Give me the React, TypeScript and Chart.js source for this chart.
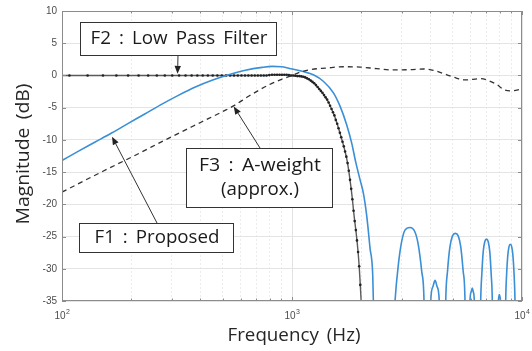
import React, { useEffect, useRef } from "react";
import { Chart, registerables } from "chart.js";

Chart.register(...registerables);

// ---------- data ----------
const xTickValues = [100, 200, 300, 400, 500, 600, 700, 800, 900, 1000, 2000, 3000, 4000, 5000, 6000, 7000, 8000, 9000, 10000];
const xLabelValues = [100, 1000, 10000];
const yTickValues = [-35, -30, -25, -20, -15, -10, -5, 0, 5, 10];

// F1 : Proposed (blue)
const f1Freq = [100, 118, 140, 165, 195, 230, 272, 322, 380, 449, 531, 627, 741, 818, 905, 1000, 1119, 1238, 1368, 1514,
  1619, 1727, 1818, 1894, 1977, 2044, 2113, 2184, 2244, 2258, 2500,
  2805, 2899, 2997, 3099, 3258, 3425, 3541, 3664, 3750, 3880,
  4010, 4097, 4188, 4277, 4368, 4500,
  4659, 4746, 4860, 4986, 5131, 5280, 5417, 5546, 5652, 5800,
  5941, 6010, 6080, 6142, 6204, 6400,
  6613, 6691, 6784, 6888, 7010, 7132, 7241, 7342, 7429, 7650,
  7889, 7927, 7968, 8023, 8079, 8280,
  8494, 8574, 8670, 8776, 8898, 9024, 9134, 9237, 9324, 9600, 10000];
const f1Mag = [-13.2, -11.75, -10.3, -8.9, -7.4, -5.95, -4.45, -3.05, -1.8, -0.75, 0.1, 0.8, 1.25, 1.4, 1.35, 1.0, 0.6, 0.1, -0.9, -2.7,
  -4.8, -7.6, -10.5, -13.5, -16.2, -18.3, -21.8, -26.8, -31.0, -35.0, -70,
  -35, -29.4, -25.8, -24.0, -23.6, -24.3, -26.3, -30.4, -35, -70,
  -35, -32.8, -31.8, -32.8, -35, -70,
  -35, -30.3, -26.6, -24.9, -24.5, -24.9, -26.6, -30.3, -35, -70,
  -35, -33.6, -33.0, -33.6, -35, -70,
  -35, -30.7, -27.3, -25.8, -25.4, -25.8, -27.3, -30.7, -35, -70,
  -35.5, -34.4, -34.0, -34.4, -35.5, -70,
  -35, -30.8, -28.0, -26.6, -26.2, -26.6, -28.0, -30.8, -35, -70, -70];

// F2 : Low Pass Filter (FFT bins, black with markers)
const f2Freq = [86.1, 107.7, 129.2, 150.7, 172.3, 193.8, 215.3, 236.9, 258.4, 279.9, 301.5, 323.0, 344.5, 366.1, 387.6,
  409.1, 430.7, 452.2, 473.7, 495.3, 516.8, 538.3, 559.9, 581.4, 602.9, 624.5, 646.0, 667.5, 689.1, 710.6, 732.1,
  753.7, 775.2, 796.7, 818.3, 839.8, 861.3, 882.9, 904.4, 925.9, 947.5, 969.0, 990.5, 1012.1, 1033.6, 1055.1,
  1076.7, 1098.2, 1119.7, 1141.3, 1162.8, 1184.3, 1205.9, 1227.4, 1248.9, 1270.5, 1292.0, 1313.5, 1335.1, 1356.6,
  1378.1, 1399.7, 1421.2, 1442.7, 1464.3, 1485.8, 1507.3, 1528.9, 1550.4, 1571.9, 1593.5, 1615.0, 1636.5, 1658.1,
  1679.6, 1701.1, 1722.7, 1744.2, 1765.7, 1787.3, 1808.8, 1830.3, 1851.9, 1873.4, 1894.9, 1916.5, 1938.0, 1959.5,
  1981.1, 2002.6, 2024.1];
const f2Mag = [0, 0, 0, 0, 0, 0, 0, 0, 0, 0, 0, 0, 0, 0, 0,
  0, 0, 0, 0, 0, 0, 0, 0, 0, 0, 0, 0, 0, 0, 0, 0,
  0, 0, 0.05, 0.1, 0.1, 0.1, 0.1, 0.1, 0.1, 0.1, 0.05, 0.0, 0.0, -0.05, -0.1,
  -0.1, -0.15, -0.2, -0.3, -0.45, -0.6, -0.8, -1.0, -1.2, -1.5, -1.8, -2.1, -2.4, -2.7,
  -3.05, -3.4, -3.75, -4.2, -4.7, -5.2, -5.7, -6.2, -6.9, -7.5, -8.2, -8.9, -9.6, -10.3,
  -11.0, -11.8, -12.6, -13.6, -14.8, -16.2, -17.6, -19.2, -21.0, -22.6, -24.0, -25.6, -27.4, -29.6,
  -32.5, -35.6, -39];

// F3 : A-weight (approx.) (dashed)
const f3Freq = [100, 150, 200, 300, 400, 500, 565, 650, 726, 800, 900, 1000, 1084, 1197, 1415, 1671, 1977, 2335, 2756, 3258,
  3726, 4120, 4711, 5180, 5680, 6560, 7020, 7770, 8320, 8870, 10000];
const f3Mag = [-18.1, -14.9, -12.7, -9.5, -7.3, -5.6, -4.6, -3.2, -2.2, -1.4, -0.6, 0.0, 0.5, 0.9, 1.15, 1.35, 1.3, 1.05, 0.85, 0.9,
  1.0, 0.8, 0.1, -0.4, -0.7, -0.5, -0.7, -1.4, -2.2, -2.4, -2.1];

// annotations: text boxes (canvas px), text widths, and arrow tips (data coords)
const annotations = [
  { lines: ["F2 : Low Pass Filter"], widths: [177], box: [80, 22, 276, 55], tail: [178, 55], tipF: 318, tipDb: 0.25 },
  { lines: ["F3 : A-weight", "(approx.)"], widths: [122, 78], box: [186, 148, 332, 207], tail: [260, 148], tipF: 558, tipDb: -4.8 },
  { lines: ["F1 : Proposed"], widths: [125], box: [79, 223, 233, 252], tail: [157, 223], tipF: 165, tipDb: -9.5 },
];

const isDecade = (v: number) => Math.abs(Math.log10(v) - Math.round(Math.log10(v))) < 1e-9;
const toXY = (fs: number[], ms: number[]) => fs.map((f, i) => ({ x: f, y: ms[i] }));

const TITLE_FONT = '"Open Sans", "Noto Sans", sans-serif';
const TICK_FONT = '"Liberation Sans", Arial, sans-serif';

function fitText(ctx: any, text: string, cx: number, cy: number, w: number) {
  const m = ctx.measureText(text).width;
  ctx.save();
  ctx.translate(cx, cy);
  ctx.scale(w / m, 1);
  ctx.textAlign = "center";
  ctx.textBaseline = "middle";
  ctx.fillText(text, 0, 0);
  ctx.restore();
}

const framePlugin = {
  id: "frame",
  afterDatasetsDraw(chart: any) {
    const { ctx, chartArea: a, scales } = chart;
    ctx.save();
    ctx.strokeStyle = "#8c8c8c";
    ctx.lineWidth = 1;
    ctx.beginPath();
    for (const v of yTickValues) {
      const y = Math.round(scales.y.getPixelForValue(v)) + 0.5;
      ctx.moveTo(a.left, y); ctx.lineTo(a.left + 4, y);
      ctx.moveTo(a.right, y); ctx.lineTo(a.right - 4, y);
    }
    for (const v of xTickValues) {
      const x = Math.round(scales.x.getPixelForValue(v)) + 0.5;
      const len = isDecade(v) ? 4 : 2.5;
      ctx.moveTo(x, a.bottom); ctx.lineTo(x, a.bottom - len);
      ctx.moveTo(x, a.top); ctx.lineTo(x, a.top + len);
    }
    ctx.stroke();
    ctx.strokeRect(Math.round(a.left) + 0.5, Math.round(a.top) + 0.5, Math.round(a.right - a.left) - 1, Math.round(a.bottom - a.top) - 1);
    ctx.restore();
  },
  afterDraw(chart: any) {
    const { ctx, chartArea: a, scales } = chart;
    ctx.save();
    // x tick labels 10^n
    ctx.fillStyle = "#4d4d4d";
    for (const v of xLabelValues) {
      const px = scales.x.getPixelForValue(v);
      const exp = String(Math.round(Math.log10(v)));
      ctx.font = `10px ${TICK_FONT}`;
      const w1 = ctx.measureText("10").width;
      ctx.font = `7px ${TICK_FONT}`;
      const w2 = ctx.measureText(exp).width;
      const x0 = px - (w1 + w2) / 2;
      ctx.textAlign = "left";
      ctx.textBaseline = "alphabetic";
      ctx.font = `10px ${TICK_FONT}`;
      ctx.fillText("10", x0, a.bottom + 18);
      ctx.font = `7px ${TICK_FONT}`;
      ctx.fillText(exp, x0 + w1 + 0.5, a.bottom + 13);
    }
    // axis titles
    ctx.fillStyle = "#262626";
    ctx.font = `18px ${TITLE_FONT}`;
    ctx.wordSpacing = "3px";
    fitText(ctx, "Frequency (Hz)", 294, 336, 133);
    ctx.save();
    ctx.translate(24, (a.top + a.bottom) / 2 - 2);
    ctx.rotate(-Math.PI / 2);
    fitText(ctx, "Magnitude (dB)", 0, 0, 141);
    ctx.restore();

    // annotations
    for (const an of annotations) {
      const [x1, y1, x2, y2] = an.box;
      const tx = scales.x.getPixelForValue(an.tipF);
      const ty = scales.y.getPixelForValue(an.tipDb);
      const [sx, sy] = an.tail;
      ctx.strokeStyle = "#333";
      ctx.fillStyle = "#222";
      ctx.lineWidth = 1;
      const ang = Math.atan2(ty - sy, tx - sx);
      const hl = 8, hw = 3.2;
      const bx = tx - hl * Math.cos(ang), by = ty - hl * Math.sin(ang);
      ctx.beginPath();
      ctx.moveTo(sx, sy);
      ctx.lineTo(bx, by);
      ctx.stroke();
      ctx.beginPath();
      ctx.moveTo(tx, ty);
      ctx.lineTo(bx + hw * Math.sin(ang), by - hw * Math.cos(ang));
      ctx.lineTo(bx - hw * Math.sin(ang), by + hw * Math.cos(ang));
      ctx.closePath();
      ctx.fill();
      ctx.fillStyle = "#ffffff";
      ctx.fillRect(x1, y1, x2 - x1, y2 - y1);
      ctx.strokeStyle = "#333";
      ctx.strokeRect(x1 + 0.5, y1 + 0.5, x2 - x1, y2 - y1);
      ctx.fillStyle = "#1a1a1a";
      ctx.font = `18px ${TITLE_FONT}`;
      ctx.wordSpacing = "3px";
      const cx = (x1 + x2) / 2;
      const n = an.lines.length;
      const lh = 24;
      const cy = (y1 + y2) / 2;
      an.lines.forEach((t, i) => {
        fitText(ctx, t, cx + 1, cy + (i - (n - 1) / 2) * lh, an.widths[i]);
      });
    }
    ctx.restore();
  },
};

export default function App() {
  const ref = useRef<HTMLCanvasElement>(null);
  useEffect(() => {
    const chart = new Chart(ref.current as HTMLCanvasElement, {
      type: "line",
      data: {
        datasets: [
          {
            label: "F3 : A-weight (approx.)",
            data: toXY(f3Freq, f3Mag),
            borderColor: "#333333",
            borderWidth: 1.3,
            borderDash: [5, 4],
            pointRadius: 0,
            cubicInterpolationMode: "monotone",
            clip: 0,
          },
          {
            label: "F1 : Proposed",
            data: toXY(f1Freq, f1Mag),
            borderColor: "#3a8fd6",
            borderWidth: 1.6,
            pointRadius: 0,
            cubicInterpolationMode: "monotone",
            clip: 0,
          },
          {
            label: "F2 : Low Pass Filter",
            data: toXY(f2Freq, f2Mag),
            borderColor: "#5a5a5a",
            borderWidth: 1.4,
            pointRadius: 1.3,
            pointBorderWidth: 0,
            pointBackgroundColor: "#222222",
            tension: 0,
            clip: 0,
          },
        ],
      } as any,
      options: {
        responsive: false,
        animation: false,
        devicePixelRatio: 1,
        layout: { padding: { left: 0, top: 10, right: 10, bottom: 0 } },
        plugins: { legend: { display: false }, tooltip: { enabled: false } },
        scales: {
          x: {
            type: "logarithmic",
            min: 100,
            max: 10000,
            afterBuildTicks: (s: any) => {
              s.ticks = xTickValues.map((v) => ({ value: v, major: isDecade(v) }));
            },
            ticks: { display: false },
            grid: {
              drawTicks: false,
              color: (c: any) => (c.tick && isDecade(c.tick.value) ? "#e2e2e2" : "#ececec"),
              lineWidth: 1,
            },
            border: { display: false, dash: (c: any) => (c.tick && isDecade(c.tick.value) ? [] : [2, 2]) },
            afterFit: (s: any) => { s.height = 50; },
          },
          y: {
            type: "linear",
            min: -35,
            max: 10,
            afterBuildTicks: (s: any) => {
              s.ticks = yTickValues.map((v) => ({ value: v }));
            },
            ticks: { color: "#4d4d4d", font: { size: 10, family: TICK_FONT }, padding: 5 },
            grid: { drawTicks: false, color: "#e4e4e4", lineWidth: 1 },
            border: { display: false },
            afterFit: (s: any) => { s.width = 62; },
          },
        },
      } as any,
      plugins: [framePlugin],
    });
    return () => chart.destroy();
  }, []);
  return (
    <div style={{ position: "fixed", left: 0, top: 0, width: 532, height: 351, background: "#ffffff" }}>
      <canvas ref={ref} width={532} height={351} style={{ display: "block", width: 532, height: 351 }} />
    </div>
  );
}
